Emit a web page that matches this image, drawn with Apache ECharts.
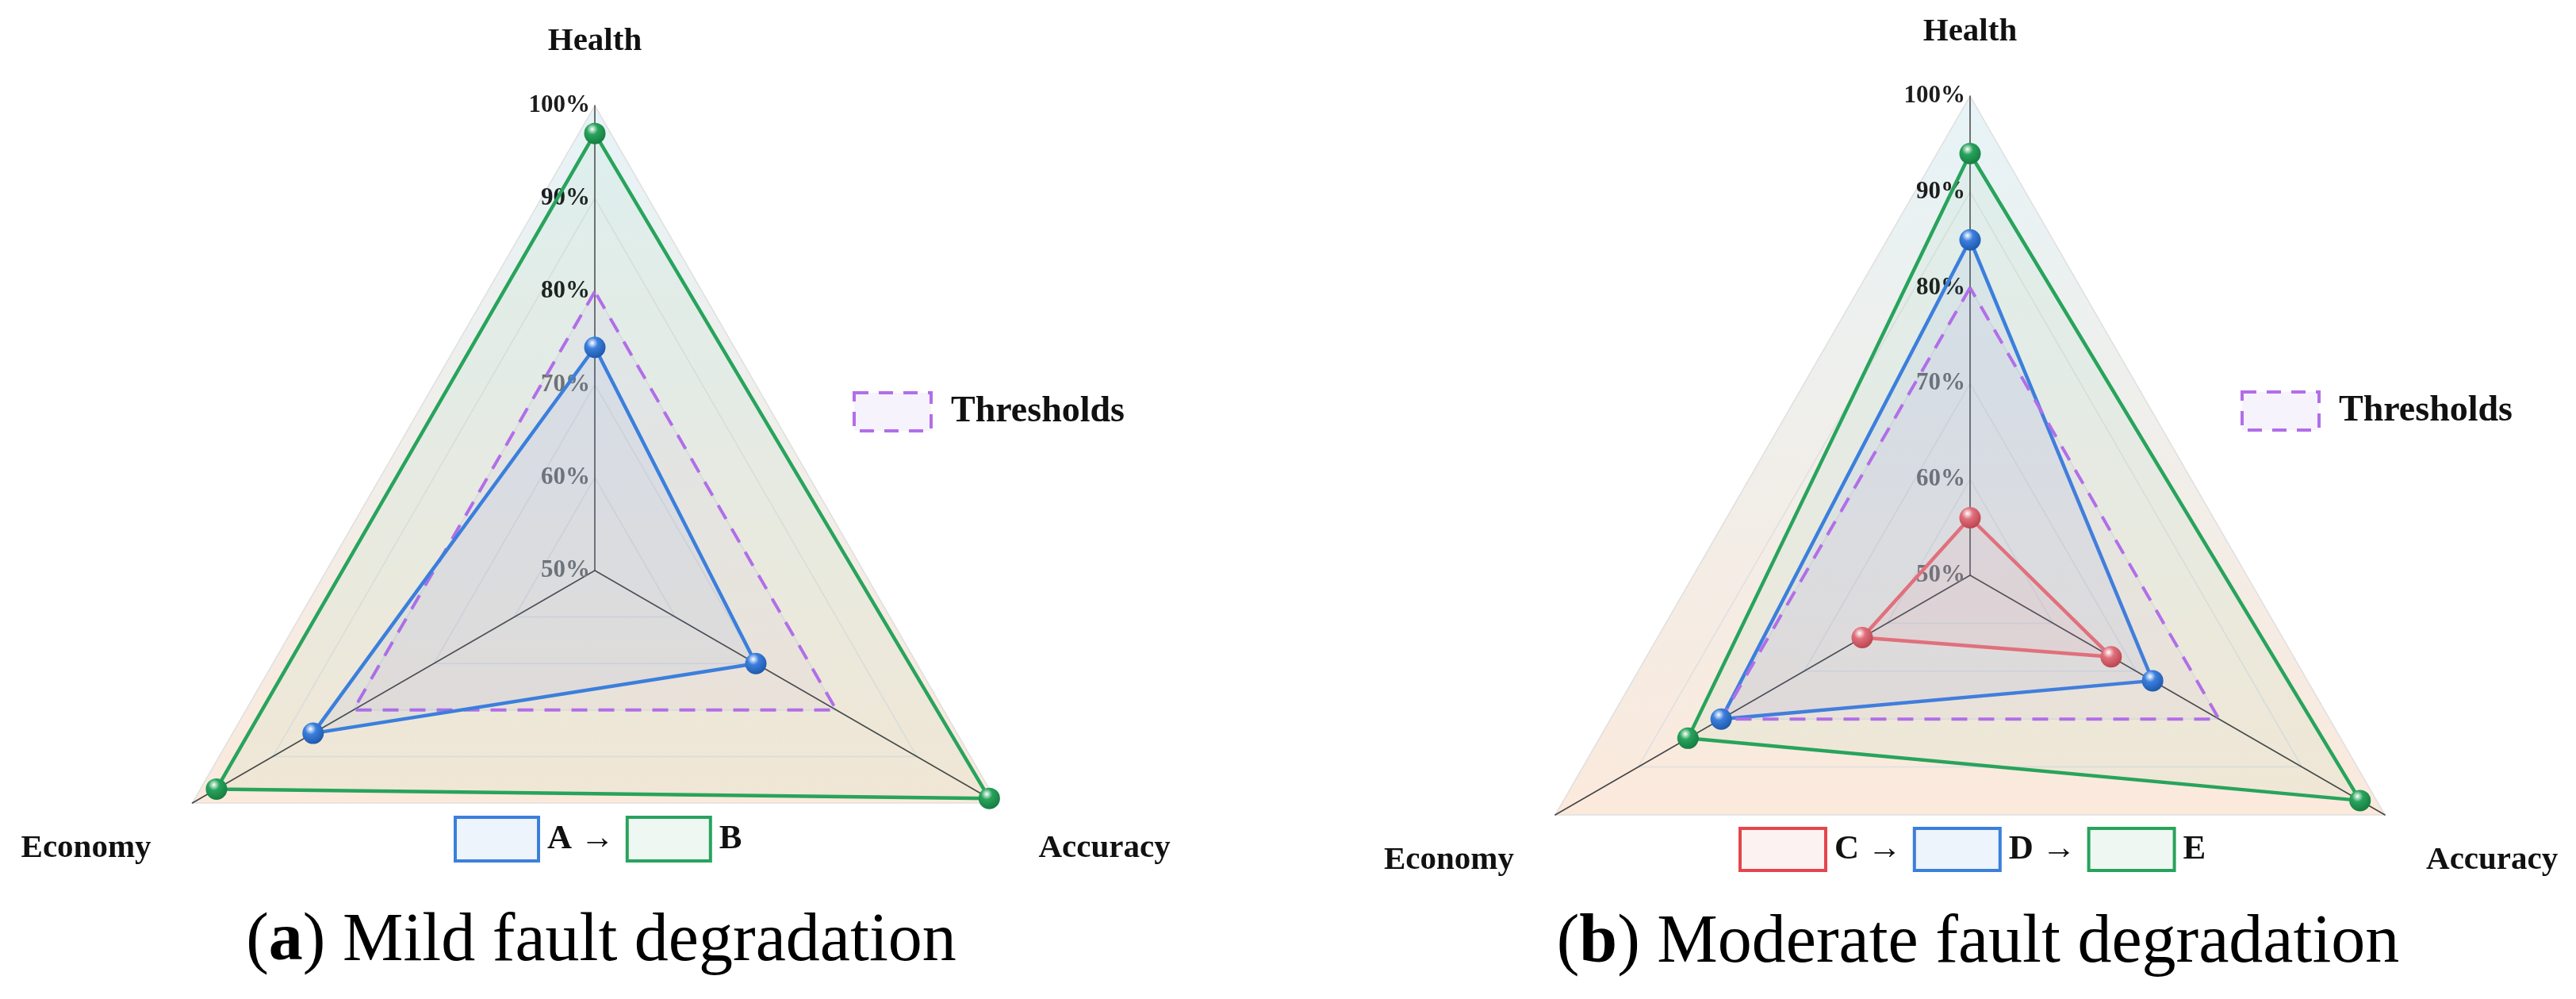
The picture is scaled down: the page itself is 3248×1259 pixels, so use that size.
<!DOCTYPE html>
<html>
<head>
<meta charset="utf-8">
<script src="https://cdn.jsdelivr.net/npm/echarts@6/dist/echarts.min.js"></script>
<style>
html,body{margin:0;padding:0;background:#fff;}
#main{width:3248px;height:1259px;}
</style>
</head>
<body>
<div id="main"></div>
<script>
// axes and ticks
var indicators = ['Health', 'Economy', 'Accuracy'];
var tickValues = [50, 60, 70, 80, 90, 100];
var thresholds = [80, 80, 80];
// (a) mild fault: A -> B
var valuesA = [74, 85, 70];
var valuesB = [97, 97, 99];
// (b) moderate fault: C -> D -> E
var valuesC = [56, 63, 67];
var valuesD = [85, 80, 72];
var valuesE = [94, 84, 97];
var captions = [['a', 'Mild fault degradation'], ['b', 'Moderate fault degradation']];

var FONT = 'Liberation Serif';
var BLUE = '#3b7fdc', GREEN = '#28a35c', RED = '#e0707c', PURPLE = '#b26ee8';

function ball(c, dark){//3D looking marker
    return {type:'radial', x:0.38, y:0.3, r:0.75, colorStops:[
        {offset:0, color:'#ffffff'}, {offset:0.35, color:c}, {offset:1, color:dark}]};
}

function makeRadar(cx, cy, r){
    return {
        center:[cx, cy], radius:r, startAngle:90, shape:'polygon',
        splitNumber: tickValues.length - 1,
        indicator: indicators.map(function(n, i){
            var o = {name:n, min:tickValues[0], max:tickValues[tickValues.length - 1]};
            if(i > 0){ o.axisLabel = {show:false}; }
            return o;
        }),
        nameGap: 60,
        axisName:{
            color:'#111', fontSize:41, fontWeight:'bold', fontFamily:FONT,
            formatter:function(n){ return n === indicators[0] ? n : '{low|' + n + '}'; },
            rich:{low:{color:'#111', fontSize:41, fontWeight:'bold', fontFamily:FONT, padding:[54, 0, 0, 0]}}
        },
        axisLine:{lineStyle:{color:'#444', width:1.5}},
        axisTick:{show:false},
        splitLine:{lineStyle:{color:'#e0e0e0', width:1.5}},
        splitArea:{areaStyle:{color:[{type:'linear', x:0, y:0, x2:0, y2:1, colorStops:[
            {offset:0, color:'rgba(228,242,246,0.9)'}, {offset:1, color:'rgba(251,232,218,0.95)'}]}]}},
        axisLabel:{
            show:true, margin:6,
            formatter:function(v){ return (v >= 80 ? '{d|' : '{g|') + v + '%}'; },
            rich:{
                d:{color:'#1c1c1c', fontSize:31, fontWeight:'bold', fontFamily:FONT},
                g:{color:'#707070', fontSize:31, fontWeight:'bold', fontFamily:FONT}
            }
        }
    };
}

function radarSeries(idx, name, vals, color, dark, fill){
    return {
        type:'radar', radarIndex:idx, name:name,
        symbol:'circle', symbolSize:27,
        lineStyle:{color:color, width:4.5},
        itemStyle:{color:ball(color, dark)},
        areaStyle:{color:fill},
        data:[{value:vals, name:name}]
    };
}

function thresholdSeries(idx){
    return {
        type:'radar', radarIndex:idx, name:'Thresholds', symbol:'none',
        lineStyle:{color:PURPLE, width:4, type:[20, 14]},
        areaStyle:{color:'rgba(180,110,230,0.07)'},
        data:[{value:thresholds, name:'Thresholds'}]
    };
}

function legendItem(name, border, fill, dashed){
    return {name:name, icon:'rect', itemStyle:{color:fill, borderColor:border, borderWidth:4,
        borderType: dashed ? [18, 13] : 'solid'}};
}

function thresholdLegend(x, y){
    return {
        data:[legendItem('Thresholds', PURPLE, '#f7f3fd', true)],
        left:x, top:y, padding:0, itemWidth:97, itemHeight:48, selectedMode:false,
        textStyle:{fontSize:46, fontWeight:'bold', fontFamily:FONT, color:'#111', padding:[0, 0, 0, 20]}
    };
}

function stepLegend(items, x, y, w, h){
    var last = items[items.length - 1].name;
    return {
        data:items, left:x, top:y, padding:0, itemWidth:w, itemHeight:h, itemGap:14, selectedMode:false,
        formatter:function(n){ return n === last ? n : n + ' \u2192'; },
        textStyle:{fontSize:43, fontWeight:'bold', fontFamily:FONT, color:'#111', padding:[0, 0, 0, 6]}
    };
}

function caption(x, y, c){
    return {type:'text', x:x, y:y, style:{
        text:'({b|' + c[0] + '}) ' + c[1], align:'center', verticalAlign:'middle',
        font:'86px ' + FONT, fill:'#000',
        rich:{b:{fontWeight:'bold', fontSize:86, fontFamily:FONT}}
    }};
}

var option = {
    backgroundColor:'#fff',
    animation:false,
    radar:[makeRadar(750, 719, 586), makeRadar(2484, 725, 604)],
    legend:[
        thresholdLegend(1075, 493),
        stepLegend([legendItem('A', BLUE, '#eef4fc'), legendItem('B', GREEN, '#eef7f1')], 572, 1028, 105, 55),
        thresholdLegend(2825, 492),
        stepLegend([legendItem('C', '#e4464c', '#fdf2f2'), legendItem('D', BLUE, '#eef4fc'),
            legendItem('E', GREEN, '#eef7f1')], 2192, 1042, 108, 53)
    ],
    series:[
        radarSeries(0, 'B', valuesB, GREEN, '#147a3e', 'rgba(60,175,105,0.08)'),
        thresholdSeries(0),
        radarSeries(0, 'A', valuesA, BLUE, '#1d55a8', 'rgba(90,130,225,0.10)'),
        radarSeries(1, 'E', valuesE, GREEN, '#147a3e', 'rgba(60,175,105,0.08)'),
        radarSeries(1, 'D', valuesD, BLUE, '#1d55a8', 'rgba(90,130,225,0.10)'),
        thresholdSeries(1),
        radarSeries(1, 'C', valuesC, RED, '#b8404c', 'rgba(235,120,130,0.10)')
    ],
    graphic:[caption(758, 1187, captions[0]), caption(2494, 1189, captions[1])]
};

var chart = echarts.init(document.getElementById('main'));
chart.setOption(option);
</script>
</body>
</html>
